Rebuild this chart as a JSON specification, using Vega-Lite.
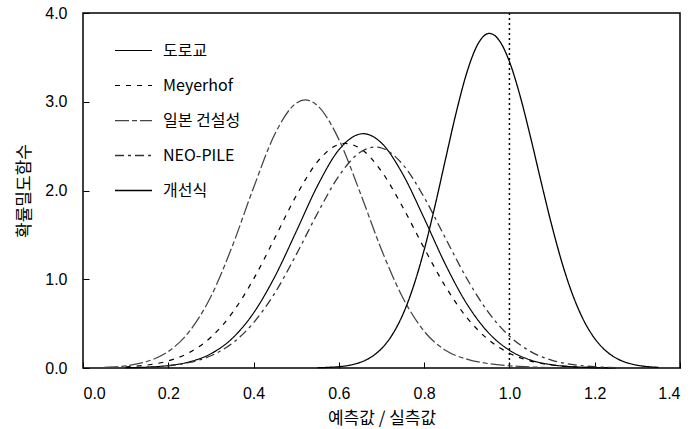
{
  "$schema": "https://vega.github.io/schema/vega-lite/v6.json",
  "width": 597,
  "height": 355,
  "autosize": "none",
  "padding": {"left": 83, "top": 13, "right": 17, "bottom": 61},
  "background": "white",
  "config": {
    "view": {"stroke": "black", "strokeWidth": 1.5},
    "font": "Liberation Sans",
    "axis": {"grid": false, "domain": false, "tickColor": "black", "tickSize": -6, "labelColor": "#000000", "titleColor": "#000000", "labelFont": "Liberation Sans", "labelFontSize": 16, "titleFont": "Noto Sans CJK KR", "titleFontSize": 17, "titleFontWeight": "normal"},
    "legend": {"symbolOpacity": 1, "labelColor": "#000000"}
  },
  "datasets": {
    "curves": [
      {"s": "도로교", "x": 0.10, "y": 0.003}, {"s": "도로교", "x": 0.15, "y": 0.009}, {"s": "도로교", "x": 0.20, "y": 0.027}, {"s": "도로교", "x": 0.25, "y": 0.070}, {"s": "도로교", "x": 0.30, "y": 0.161}, {"s": "도로교", "x": 0.35, "y": 0.334}, {"s": "도로교", "x": 0.40, "y": 0.620}, {"s": "도로교", "x": 0.45, "y": 1.031}, {"s": "도로교", "x": 0.50, "y": 1.537}, {"s": "도로교", "x": 0.55, "y": 2.054}, {"s": "도로교", "x": 0.60, "y": 2.458}, {"s": "도로교", "x": 0.657, "y": 2.64}, {"s": "도로교", "x": 0.70, "y": 2.535}, {"s": "도로교", "x": 0.75, "y": 2.183}, {"s": "도로교", "x": 0.80, "y": 1.687}, {"s": "도로교", "x": 0.85, "y": 1.166}, {"s": "도로교", "x": 0.90, "y": 0.723}, {"s": "도로교", "x": 0.95, "y": 0.402}, {"s": "도로교", "x": 1.00, "y": 0.200}, {"s": "도로교", "x": 1.05, "y": 0.089}, {"s": "도로교", "x": 1.10, "y": 0.036}, {"s": "도로교", "x": 1.15, "y": 0.013}, {"s": "도로교", "x": 1.20, "y": 0.004}, {"s": "도로교", "x": 1.25, "y": 0.001},
      {"s": "Meyerhof", "x": 0.10, "y": 0.012}, {"s": "Meyerhof", "x": 0.15, "y": 0.033}, {"s": "Meyerhof", "x": 0.20, "y": 0.080}, {"s": "Meyerhof", "x": 0.25, "y": 0.176}, {"s": "Meyerhof", "x": 0.30, "y": 0.347}, {"s": "Meyerhof", "x": 0.35, "y": 0.620}, {"s": "Meyerhof", "x": 0.40, "y": 1.002}, {"s": "Meyerhof", "x": 0.45, "y": 1.467}, {"s": "Meyerhof", "x": 0.50, "y": 1.941}, {"s": "Meyerhof", "x": 0.55, "y": 2.325}, {"s": "Meyerhof", "x": 0.60, "y": 2.519}, {"s": "Meyerhof", "x": 0.615, "y": 2.53}, {"s": "Meyerhof", "x": 0.65, "y": 2.474}, {"s": "Meyerhof", "x": 0.70, "y": 2.216}, {"s": "Meyerhof", "x": 0.75, "y": 1.811}, {"s": "Meyerhof", "x": 0.80, "y": 1.350}, {"s": "Meyerhof", "x": 0.85, "y": 0.918}, {"s": "Meyerhof", "x": 0.90, "y": 0.569}, {"s": "Meyerhof", "x": 0.95, "y": 0.322}, {"s": "Meyerhof", "x": 1.00, "y": 0.166}, {"s": "Meyerhof", "x": 1.05, "y": 0.078}, {"s": "Meyerhof", "x": 1.10, "y": 0.034}, {"s": "Meyerhof", "x": 1.15, "y": 0.013}, {"s": "Meyerhof", "x": 1.20, "y": 0.005}, {"s": "Meyerhof", "x": 1.25, "y": 0.002},
      {"s": "일본 건설성", "x": 0.05, "y": 0.008}, {"s": "일본 건설성", "x": 0.10, "y": 0.025}, {"s": "일본 건설성", "x": 0.15, "y": 0.073}, {"s": "일본 건설성", "x": 0.20, "y": 0.186}, {"s": "일본 건설성", "x": 0.25, "y": 0.415}, {"s": "일본 건설성", "x": 0.30, "y": 0.806}, {"s": "일본 건설성", "x": 0.35, "y": 1.371}, {"s": "일본 건설성", "x": 0.40, "y": 2.032}, {"s": "일본 건설성", "x": 0.45, "y": 2.636}, {"s": "일본 건설성", "x": 0.50, "y": 2.984}, {"s": "일본 건설성", "x": 0.521, "y": 3.02}, {"s": "일본 건설성", "x": 0.55, "y": 2.956}, {"s": "일본 건설성", "x": 0.60, "y": 2.576}, {"s": "일본 건설성", "x": 0.65, "y": 1.975}, {"s": "일본 건설성", "x": 0.70, "y": 1.333}, {"s": "일본 건설성", "x": 0.75, "y": 0.792}, {"s": "일본 건설성", "x": 0.80, "y": 0.414}, {"s": "일본 건설성", "x": 0.85, "y": 0.200}, {"s": "일본 건설성", "x": 0.90, "y": 0.100}, {"s": "일본 건설성", "x": 0.95, "y": 0.050}, {"s": "일본 건설성", "x": 1.00, "y": 0.025}, {"s": "일본 건설성", "x": 1.05, "y": 0.012}, {"s": "일본 건설성", "x": 1.10, "y": 0.005},
      {"s": "NEO-PILE", "x": 0.15, "y": 0.009}, {"s": "NEO-PILE", "x": 0.20, "y": 0.025}, {"s": "NEO-PILE", "x": 0.25, "y": 0.062}, {"s": "NEO-PILE", "x": 0.30, "y": 0.138}, {"s": "NEO-PILE", "x": 0.35, "y": 0.278}, {"s": "NEO-PILE", "x": 0.40, "y": 0.510}, {"s": "NEO-PILE", "x": 0.45, "y": 0.846}, {"s": "NEO-PILE", "x": 0.50, "y": 1.277}, {"s": "NEO-PILE", "x": 0.55, "y": 1.744}, {"s": "NEO-PILE", "x": 0.60, "y": 2.163}, {"s": "NEO-PILE", "x": 0.65, "y": 2.431}, {"s": "NEO-PILE", "x": 0.685, "y": 2.49}, {"s": "NEO-PILE", "x": 0.70, "y": 2.479}, {"s": "NEO-PILE", "x": 0.75, "y": 2.293}, {"s": "NEO-PILE", "x": 0.80, "y": 1.923}, {"s": "NEO-PILE", "x": 0.85, "y": 1.463}, {"s": "NEO-PILE", "x": 0.90, "y": 1.009}, {"s": "NEO-PILE", "x": 0.95, "y": 0.632}, {"s": "NEO-PILE", "x": 1.00, "y": 0.359}, {"s": "NEO-PILE", "x": 1.05, "y": 0.185}, {"s": "NEO-PILE", "x": 1.10, "y": 0.086}, {"s": "NEO-PILE", "x": 1.15, "y": 0.037}, {"s": "NEO-PILE", "x": 1.20, "y": 0.014}, {"s": "NEO-PILE", "x": 1.25, "y": 0.005},
      {"s": "개선식", "x": 0.55, "y": 0.003}, {"s": "개선식", "x": 0.575, "y": 0.007}, {"s": "개선식", "x": 0.60, "y": 0.015}, {"s": "개선식", "x": 0.625, "y": 0.031}, {"s": "개선식", "x": 0.65, "y": 0.063}, {"s": "개선식", "x": 0.675, "y": 0.121}, {"s": "개선식", "x": 0.70, "y": 0.218}, {"s": "개선식", "x": 0.725, "y": 0.373}, {"s": "개선식", "x": 0.75, "y": 0.602}, {"s": "개선식", "x": 0.775, "y": 0.921}, {"s": "개선식", "x": 0.80, "y": 1.330}, {"s": "개선식", "x": 0.825, "y": 1.818}, {"s": "개선식", "x": 0.85, "y": 2.351}, {"s": "개선식", "x": 0.875, "y": 2.875}, {"s": "개선식", "x": 0.90, "y": 3.327}, {"s": "개선식", "x": 0.925, "y": 3.641}, {"s": "개선식", "x": 0.953, "y": 3.77}, {"s": "개선식", "x": 0.975, "y": 3.698}, {"s": "개선식", "x": 1.00, "y": 3.452}, {"s": "개선식", "x": 1.025, "y": 3.066}, {"s": "개선식", "x": 1.05, "y": 2.591}, {"s": "개선식", "x": 1.075, "y": 2.083}, {"s": "개선식", "x": 1.10, "y": 1.594}, {"s": "개선식", "x": 1.125, "y": 1.159}, {"s": "개선식", "x": 1.15, "y": 0.803}, {"s": "개선식", "x": 1.175, "y": 0.529}, {"s": "개선식", "x": 1.20, "y": 0.332}, {"s": "개선식", "x": 1.225, "y": 0.198}, {"s": "개선식", "x": 1.25, "y": 0.112}, {"s": "개선식", "x": 1.275, "y": 0.060}, {"s": "개선식", "x": 1.30, "y": 0.031}, {"s": "개선식", "x": 1.325, "y": 0.015}, {"s": "개선식", "x": 1.35, "y": 0.007}
    ],
    "ref": [{"x": 1.0}]
  },
  "layer": [
    {
      "data": {"name": "ref"},
      "mark": {"type": "rule", "color": "black", "strokeWidth": 1.5, "strokeDash": [2, 3]},
      "encoding": {"x": {"field": "x", "type": "quantitative"}}
    },
    {
      "data": {"name": "curves"},
      "mark": {"type": "line", "interpolate": "monotone"},
      "encoding": {
        "x": {"field": "x", "type": "quantitative", "scale": {"domain": [0, 1.4], "nice": false}, "axis": {"values": [0, 0.2, 0.4, 0.6, 0.8, 1.0, 1.2, 1.4], "format": ".1f", "labelPadding": 23, "title": "예측값 / 실측값", "titlePadding": 9}},
        "y": {"field": "y", "type": "quantitative", "scale": {"domain": [0, 4]}, "axis": {"values": [0, 1, 2, 3, 4], "format": ".1f", "labelPadding": 22, "title": "확률밀도함수", "titlePadding": 11}},
        "color": {"field": "s", "type": "nominal", "scale": {"domain": ["도로교", "Meyerhof", "일본 건설성", "NEO-PILE", "개선식"], "range": ["#000000", "#000000", "#444444", "#333333", "#000000"]}, "legend": {"title": null, "orient": "none", "legendX": 31, "legendY": 18, "symbolType": "stroke", "symbolSize": 1369, "symbolOpacity": 1, "labelFont": "Noto Sans CJK KR", "labelFontSize": 16, "labelColor": "#000000", "labelOffset": 10, "rowPadding": 7}},
        "strokeDash": {"field": "s", "type": "nominal", "scale": {"domain": ["도로교", "Meyerhof", "일본 건설성", "NEO-PILE", "개선식"], "range": [[1, 0], [5, 6], [14, 3, 5, 3], [9, 4, 3, 4], [1, 0]]}, "legend": {"title": null, "orient": "none", "legendX": 31, "legendY": 18, "symbolType": "stroke", "symbolSize": 1369, "symbolOpacity": 1, "labelFont": "Noto Sans CJK KR", "labelFontSize": 16, "labelColor": "#000000", "labelOffset": 10, "rowPadding": 7}},
        "strokeWidth": {"field": "s", "type": "nominal", "scale": {"domain": ["도로교", "Meyerhof", "일본 건설성", "NEO-PILE", "개선식"], "range": [1.2, 1.3, 1.0, 1.0, 1.8]}, "legend": {"title": null, "orient": "none", "legendX": 31, "legendY": 18, "symbolType": "stroke", "symbolSize": 1369, "symbolOpacity": 1, "labelFont": "Noto Sans CJK KR", "labelFontSize": 16, "labelColor": "#000000", "labelOffset": 10, "rowPadding": 7}}
      }
    }
  ]
}
